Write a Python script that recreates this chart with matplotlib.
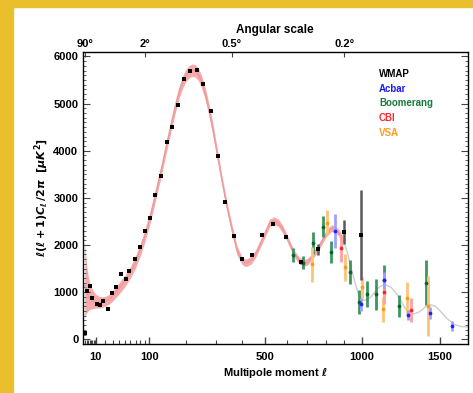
import numpy as np
import matplotlib
matplotlib.use('Agg')
import matplotlib.pyplot as plt
from matplotlib.patches import Rectangle

plt.rcParams['font.family'] = ['Liberation Sans', 'DejaVu Sans']
plt.rcParams['font.weight'] = 'bold'
plt.rcParams['axes.labelweight'] = 'bold'
plt.rcParams['mathtext.fontset'] = 'dejavusans'

# best fit model, red part with its cosmic variance band
fit_l = [2, 3, 4, 5, 6, 8, 10, 13, 16, 20, 25, 30, 40, 50, 60, 70, 80, 90, 100,
         110, 120, 130, 140, 150, 160, 170, 180, 190, 200, 210, 220, 230, 240,
         250, 260, 270, 280, 290, 300, 320, 340, 360, 380, 400, 410, 420, 440,
         460, 480, 500, 520, 540, 560, 580, 600, 620, 640, 660, 680, 700, 720,
         740, 760, 780, 800, 830, 860, 880]
fit_D = [1150, 1000, 920, 870, 840, 800, 780, 770, 775, 800, 850, 920, 1080,
         1240, 1420, 1640, 1900, 2200, 2520, 2880, 3250, 3600, 3980, 4330,
         4680, 4990, 5260, 5460, 5600, 5680, 5710, 5690, 5610, 5470, 5270,
         5020, 4740, 4440, 4110, 3460, 2860, 2360, 1900, 1680, 1630, 1625,
         1680, 1830, 2040, 2250, 2470, 2515, 2470, 2340, 2160, 1960, 1790,
         1680, 1620, 1640, 1720, 1840, 1950, 2100, 2240, 2360, 2300, 2200]
fit_lo = [470, 560, 610, 630, 645, 655, 660, 665, 675, 700, 745, 810, 960,
          1120, 1300, 1510, 1770, 2070, 2390, 2750, 3120, 3470, 3850, 4200,
          4550, 4860, 5130, 5330, 5470, 5550, 5580, 5560, 5480, 5340, 5140,
          4890, 4610, 4310, 3990, 3360, 2760, 2260, 1800, 1600, 1550, 1545,
          1600, 1750, 1960, 2170, 2390, 2435, 2390, 2260, 2090, 1890, 1720,
          1610, 1550, 1570, 1650, 1770, 1880, 2030, 2170, 2290, 2230, 2130]
fit_hi = [2070, 1560, 1320, 1190, 1110, 1010, 950, 910, 900, 910, 950, 1030,
          1200, 1360, 1540, 1770, 2030, 2330, 2650, 3010, 3380, 3730, 4110,
          4460, 4810, 5120, 5390, 5590, 5730, 5810, 5840, 5820, 5740, 5600,
          5400, 5150, 4870, 4570, 4230, 3560, 2960, 2460, 2000, 1760, 1710,
          1705, 1760, 1910, 2120, 2330, 2550, 2595, 2550, 2420, 2230, 2030,
          1860, 1750, 1690, 1710, 1790, 1910, 2020, 2170, 2310, 2430, 2370, 2270]

# model continued at high l (grey)
tail_l = [880, 900, 920, 940, 960, 980, 1000, 1020, 1040, 1060, 1080, 1100,
          1120, 1150, 1180, 1210, 1240, 1270, 1300, 1330, 1360, 1400, 1440,
          1470, 1500, 1550, 1600, 1650, 1700]
tail_D = [2200, 2050, 1800, 1500, 1220, 970, 840, 830, 860, 920, 1010, 1090,
          1140, 1150, 1100, 980, 820, 650, 560, 540, 580, 680, 730, 700, 610,
          440, 320, 270, 260]

# WMAP
wmap_l = [2, 3, 5, 7, 11, 14, 18, 24, 29, 35, 43, 51, 58, 68, 79, 90, 102, 114,
          128, 144, 158, 175, 195, 214, 234, 256, 282, 308, 336, 369, 402, 443,
          486, 534, 597, 668, 757, 896, 996]
wmap_D = [134, 1021, 1121, 879, 745, 717, 802, 645, 972, 1100, 1389, 1270,
          1447, 1696, 1964, 2298, 2574, 3057, 3453, 4191, 4496, 4964, 5517,
          5681, 5709, 5411, 4851, 3879, 2915, 2191, 1696, 1781, 2219, 2447,
          2177, 1638, 1909, 2277, 2213]
wmap_err = [0] * 35 + [40, 120, 260, 950]

# other experiments
acbar_l = [850, 995, 1137, 1289, 1432, 1588]
acbar_D = [2291, 745, 1255, 517, 560, 283]
acbar_err = [365, 140, 180, 110, 120, 110]

boom_l = [629, 679, 732, 782, 829, 932, 985, 1033, 1084, 1132, 1229, 1405]
boom_D = [1787, 1623, 2036, 2389, 1857, 1432, 794, 957, 957, 1255, 709, 1198]
boom_err = [143, 140, 230, 220, 230, 250, 250, 270, 330, 320, 230, 480]

cbi_l = [880, 1132, 1306]
cbi_D = [1930, 1006, 617]
cbi_err = [300, 250, 260]

vsa_l = [728, 803, 903, 1000, 1127, 1278, 1417]
vsa_D = [1596, 2474, 1526, 1100, 632, 879, 709]
vsa_err = [372, 260, 280, 220, 260, 340, 640]

top_l = [2, 90, 360, 900]
top_labels = ['90°', '2°', '0.5°', '0.2°']


def fwd(x):
    x = np.asarray(x, dtype=float)
    return np.sign(x) * np.abs(x) ** 0.6


def inv(y):
    y = np.asarray(y, dtype=float)
    return np.sign(y) * np.abs(y) ** (1 / 0.6)


fig = plt.figure(figsize=(4.73, 3.93), dpi=100)
fig.patch.set_facecolor('white')
gold = '#e9c02c'
fig.patches.append(Rectangle((0, 0), 13 / 473, 1, transform=fig.transFigure,
                             color=gold, zorder=0))
fig.patches.append(Rectangle((0, 1 - 7 / 393), 1, 7 / 393, transform=fig.transFigure,
                             color=gold, zorder=0))

ax = fig.add_axes([82.5 / 473, 49 / 393, 385.5 / 473, 292.3 / 393])
ax.set_xscale('function', functions=(fwd, inv))
ax.set_xlim(1, 1700)
ax.set_ylim(-100, 6100)

ax.fill_between(fit_l, fit_lo, fit_hi, color='#f7aaaa', lw=0, zorder=1)
ax.plot(fit_l, fit_D, color='#ea9a9a', lw=0.9, zorder=2)
ax.plot(tail_l, tail_D, color='#cdcdcd', lw=1.0, zorder=2)

def draw_set(l, D, err, mc, ec, z):
    ax.errorbar(l, D, yerr=err, fmt='o', ms=2.7, mew=0, mfc=mc, ecolor=ec,
                elinewidth=2.0, capsize=0, zorder=z)

draw_set(boom_l, boom_D, boom_err, '#10602e', '#3d9660', 3)
draw_set(vsa_l, vsa_D, vsa_err, '#ff9a10', '#ffc27a', 3)
draw_set(cbi_l, cbi_D, cbi_err, '#ff2020', '#ffa0a0', 3)
draw_set(acbar_l, acbar_D, acbar_err, '#2020ff', '#a0a0ff', 3)
ax.errorbar(wmap_l, wmap_D, yerr=wmap_err, fmt='s', ms=2.5, mew=0, mfc='black',
            ecolor='#5a5a5a', elinewidth=1.8, capsize=0, zorder=4)

# axes and ticks
for s in ax.spines.values():
    s.set_linewidth(1.0)
    s.set_color('#444444')
ax.set_xticks([10, 100, 500, 1000, 1500])
ax.set_xticklabels(['10', '100', '500', '1000', '1500'])
ax.set_xticks([2, 3, 4, 5, 6, 7, 8, 9, 20, 30, 40, 50, 60, 70, 80, 90,
               200, 300, 400, 600, 700, 800, 900], minor=True)
ax.set_yticks(range(0, 6001, 1000))
ax.set_yticks(range(-100, 6101, 100), minor=True)
ax.tick_params(axis='x', which='major', direction='in', length=5, width=1,
               top=False, labelsize=8, pad=6, color='#444444')
ax.tick_params(axis='x', which='minor', direction='in', length=3, width=0.8,
               top=False, color='#444444')
ax.tick_params(axis='y', which='major', direction='in', length=5, width=0.8,
               right=True, labelsize=8, pad=3, color='#444444')
ax.tick_params(axis='y', which='minor', direction='in', length=2.5, width=0.6,
               right=True, color='#444444')

top = ax.twiny()
top.set_xscale('function', functions=(fwd, inv))
top.set_xlim(ax.get_xlim())
top.set_xticks(top_l)
top.set_xticklabels(top_labels)
top.xaxis.set_minor_locator(matplotlib.ticker.NullLocator())
top.tick_params(axis='x', direction='in', length=3.5, width=0.8, labelsize=8,
                pad=2, color='#444444')
top.set_xlabel('Angular scale', fontsize=8.5, labelpad=4, fontweight='bold')

ax.set_xlabel(r'Multipole moment $\ell$', fontsize=8, labelpad=3)
ax.set_ylabel(r'$\ell(\ell+1)C_\ell\,/2\pi\ \ [\mu K^2]$', fontsize=8, labelpad=2)

names = ['WMAP', 'Acbar', 'Boomerang', 'CBI', 'VSA']
cols = ['black', '#1a1aff', '#167a3a', '#ff2a2a', '#ff9a20']
for i, (n, c) in enumerate(zip(names, cols)):
    ax.text(0.769, 0.924 - i * 0.0506, n, color=c, fontsize=7,
            transform=ax.transAxes, va='center', ha='left')

fig.savefig('out.png', dpi=100, facecolor=fig.get_facecolor())
